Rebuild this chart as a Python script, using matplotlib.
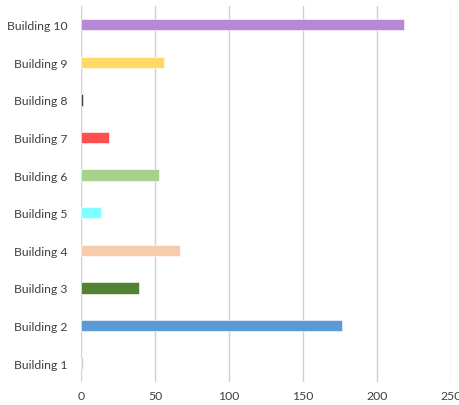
import matplotlib.pyplot as plt
import numpy as np

buildings = ['Building 1', 'Building 2', 'Building 3', 'Building 4', 'Building 5',
             'Building 6', 'Building 7', 'Building 8', 'Building 9', 'Building 10']
values = [1, 176.5, 39, 66.5, 13.5, 52.5, 19, 1, 56, 218]
colors = ['#D0D0D0', '#5B9BD5', '#548235', '#F8CBAD', '#7FFFFF',
          '#A9D18E', '#FF5050', '#404040', '#FFD966', '#B589D6']
xticks = [0, 50, 100, 150, 200, 250]

plt.rcParams['font.family'] = ['Lato', 'DejaVu Sans']

fig = plt.figure(figsize=(4.6, 4.06), dpi=100)
ax = fig.add_axes([0.177, 0.057, 0.803, 0.926])

y = np.arange(len(buildings))
ax.barh(y, values, height=0.3, color=colors, edgecolor='white', linewidth=0.4, zorder=3)

ax.set_xlim(0, 250)
ax.set_ylim(-0.5, len(buildings) - 0.5)
ax.set_xticks(xticks)
ax.set_yticks(y)
ax.set_yticklabels(buildings)
ax.xaxis.grid(True, color='#D0D0D0', linewidth=1, zorder=0)
ax.tick_params(axis='both', length=0, labelsize=8.8, colors='#404040')
ax.tick_params(axis='y', pad=10)
ax.tick_params(axis='x', pad=6)
for side in ['top', 'right', 'bottom', 'left']:
    ax.spines[side].set_visible(False)

fig.savefig('out.png', dpi=100)
